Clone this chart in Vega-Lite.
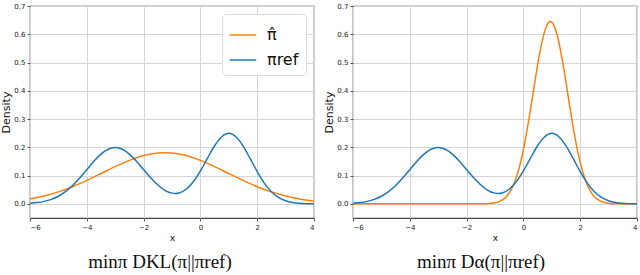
{
  "$schema": "https://vega.github.io/schema/vega-lite/v6.json",
  "padding": {"left": 0, "top": 1, "right": 0, "bottom": 0},
  "background": "white",
  "spacing": 7,
  "config": {
    "view": {"stroke": "#444444", "strokeWidth": 1.2},
    "axis": {
      "labelFont": "DejaVu Sans", "labelFontSize": 7, "labelColor": "#222",
      "titleFont": "DejaVu Sans", "titleFontWeight": "normal", "titleColor": "#111",
      "gridColor": "#d5d5d5", "gridWidth": 1, "domain": false,
      "tickColor": "#555", "tickSize": 3
    },
    "title": {"font": "Liberation Serif", "fontSize": 19, "fontWeight": "normal", "color": "#111"}
  },
  "datasets": {
    "blue": [
      {"x": -6, "y": 0.0022}, {"x": -5.75, "y": 0.0045}, {"x": -5.5, "y": 0.0088}, {"x": -5.25, "y": 0.0159},
      {"x": -5, "y": 0.027}, {"x": -4.75, "y": 0.0431}, {"x": -4.5, "y": 0.0648}, {"x": -4.25, "y": 0.0913},
      {"x": -4, "y": 0.121}, {"x": -3.75, "y": 0.1506}, {"x": -3.5, "y": 0.176}, {"x": -3.25, "y": 0.1933},
      {"x": -3, "y": 0.1995}, {"x": -2.75, "y": 0.1933}, {"x": -2.5, "y": 0.176}, {"x": -2.25, "y": 0.1506},
      {"x": -2, "y": 0.1212}, {"x": -1.75, "y": 0.092}, {"x": -1.5, "y": 0.0667}, {"x": -1.25, "y": 0.0479},
      {"x": -1, "y": 0.038}, {"x": -0.875, "y": 0.0369}, {"x": -0.75, "y": 0.0387}, {"x": -0.5, "y": 0.0518},
      {"x": -0.25, "y": 0.0781}, {"x": 0, "y": 0.1164}, {"x": 0.25, "y": 0.1617}, {"x": 0.5, "y": 0.2055},
      {"x": 0.75, "y": 0.2376}, {"x": 1, "y": 0.2494}, {"x": 1.25, "y": 0.2375}, {"x": 1.5, "y": 0.2051},
      {"x": 1.75, "y": 0.1607}, {"x": 2, "y": 0.1142}, {"x": 2.25, "y": 0.0736}, {"x": 2.5, "y": 0.043},
      {"x": 2.75, "y": 0.0228}, {"x": 3, "y": 0.011}, {"x": 3.25, "y": 0.0048}, {"x": 3.5, "y": 0.0019},
      {"x": 3.75, "y": 0.0007}, {"x": 4, "y": 0.0002}
    ],
    "orangeKL": [
      {"x": -6, "y": 0.0176}, {"x": -5.5, "y": 0.028}, {"x": -5, "y": 0.0423}, {"x": -4.5, "y": 0.0608},
      {"x": -4, "y": 0.0829}, {"x": -3.5, "y": 0.1073}, {"x": -3, "y": 0.1319}, {"x": -2.5, "y": 0.154},
      {"x": -2, "y": 0.1708}, {"x": -1.5, "y": 0.1798}, {"x": -1.25, "y": 0.181}, {"x": -1, "y": 0.1798},
      {"x": -0.5, "y": 0.1708}, {"x": 0, "y": 0.154}, {"x": 0.5, "y": 0.1319}, {"x": 1, "y": 0.1073},
      {"x": 1.5, "y": 0.0829}, {"x": 2, "y": 0.0608}, {"x": 2.5, "y": 0.0423}, {"x": 3, "y": 0.028},
      {"x": 3.5, "y": 0.0176}, {"x": 4, "y": 0.0105}
    ],
    "orangeA": [
      {"x": -6, "y": 0}, {"x": -2, "y": 0}, {"x": -1.6, "y": 0.0001}, {"x": -1.4, "y": 0.0004},
      {"x": -1.2, "y": 0.0013}, {"x": -1, "y": 0.0039}, {"x": -0.8, "y": 0.0105}, {"x": -0.6, "y": 0.0256},
      {"x": -0.4, "y": 0.0557}, {"x": -0.2, "y": 0.1091}, {"x": 0, "y": 0.1918}, {"x": 0.2, "y": 0.3029},
      {"x": 0.4, "y": 0.4296}, {"x": 0.6, "y": 0.5471}, {"x": 0.8, "y": 0.6258}, {"x": 0.95, "y": 0.645},
      {"x": 1, "y": 0.6428}, {"x": 1.2, "y": 0.593}, {"x": 1.4, "y": 0.4913}, {"x": 1.6, "y": 0.3656},
      {"x": 1.8, "y": 0.2443}, {"x": 2, "y": 0.1466}, {"x": 2.2, "y": 0.079}, {"x": 2.4, "y": 0.0383},
      {"x": 2.6, "y": 0.0166}, {"x": 2.8, "y": 0.0065}, {"x": 3, "y": 0.0023}, {"x": 3.2, "y": 0.0007},
      {"x": 3.4, "y": 0.0002}, {"x": 3.6, "y": 0.0001}, {"x": 4, "y": 0}
    ]
  },
  "resolve": {"legend": {"color": "independent"}},
  "hconcat": [
    {
      "width": 284, "height": 212,
      "title": {"text": "minπ DKL(π||πref)", "orient": "bottom", "offset": 11, "dx": -12},
      "encoding": {
        "x": {"field": "x", "type": "quantitative", "scale": {"domain": [-6, 4], "nice": false, "zero": false},
              "axis": {"values": [-6, -4, -2, 0, 2, 4], "title": "x", "titleFontSize": 9, "titlePadding": 3, "labelPadding": 2, "format": "d"}},
        "y": {"field": "y", "type": "quantitative", "scale": {"domain": [-0.05, 0.7], "nice": false, "zero": false},
              "axis": {"values": [0, 0.1, 0.2, 0.3, 0.4, 0.5, 0.6, 0.7], "labelOverlap": false, "format": ".1f", "title": "Density", "titleFontSize": 11, "titlePadding": 2, "labelPadding": 2}}
      },
      "layer": [
        {
          "data": {"name": "orangeKL"},
          "mark": {"type": "line", "strokeWidth": 1.5, "interpolate": "monotone", "clip": true},
          "encoding": {
            "color": {"datum": "π̂", "type": "nominal",
                      "scale": {"domain": ["π̂", "πref"], "range": ["#ff7f0e", "#1f77b4"]},
                      "legend": {"title": null, "orient": "top-right", "offset": 8, "symbolType": "stroke", "symbolStrokeWidth": 1.5, "symbolSize": 700,
                                 "labelFont": "DejaVu Sans", "labelFontSize": 16, "labelColor": "#111", "rowPadding": 3,
                                 "padding": 7, "cornerRadius": 4, "strokeColor": "#dddddd", "fillColor": "white", "labelOffset": 10}}
          }
        },
        {
          "data": {"name": "blue"},
          "mark": {"type": "line", "strokeWidth": 1.5, "interpolate": "monotone", "clip": true},
          "encoding": {
            "color": {"datum": "πref", "type": "nominal"}
          }
        }
      ]
    },
    {
      "width": 284, "height": 212,
      "title": {"text": "minπ Dα(π||πref)", "orient": "bottom", "offset": 11, "dx": -14},
      "encoding": {
        "x": {"field": "x", "type": "quantitative", "scale": {"domain": [-6, 4], "nice": false, "zero": false},
              "axis": {"values": [-6, -4, -2, 0, 2, 4], "title": "x", "titleFontSize": 9, "titlePadding": 3, "labelPadding": 2, "format": "d"}},
        "y": {"field": "y", "type": "quantitative", "scale": {"domain": [-0.05, 0.7], "nice": false, "zero": false},
              "axis": {"values": [0, 0.1, 0.2, 0.3, 0.4, 0.5, 0.6, 0.7], "labelOverlap": false, "format": ".1f", "title": "Density", "titleFontSize": 11, "titlePadding": 2, "labelPadding": 2}}
      },
      "layer": [
        {
          "data": {"name": "orangeA"},
          "mark": {"type": "line", "strokeWidth": 1.5, "interpolate": "monotone", "clip": true},
          "encoding": {
            "color": {"datum": "π̂", "type": "nominal", "scale": {"domain": ["π̂", "πref"], "range": ["#ff7f0e", "#1f77b4"]}, "legend": null}
          }
        },
        {
          "data": {"name": "blue"},
          "mark": {"type": "line", "strokeWidth": 1.5, "interpolate": "monotone", "clip": true},
          "encoding": {
            "color": {"datum": "πref", "type": "nominal", "legend": null}
          }
        }
      ]
    }
  ]
}
